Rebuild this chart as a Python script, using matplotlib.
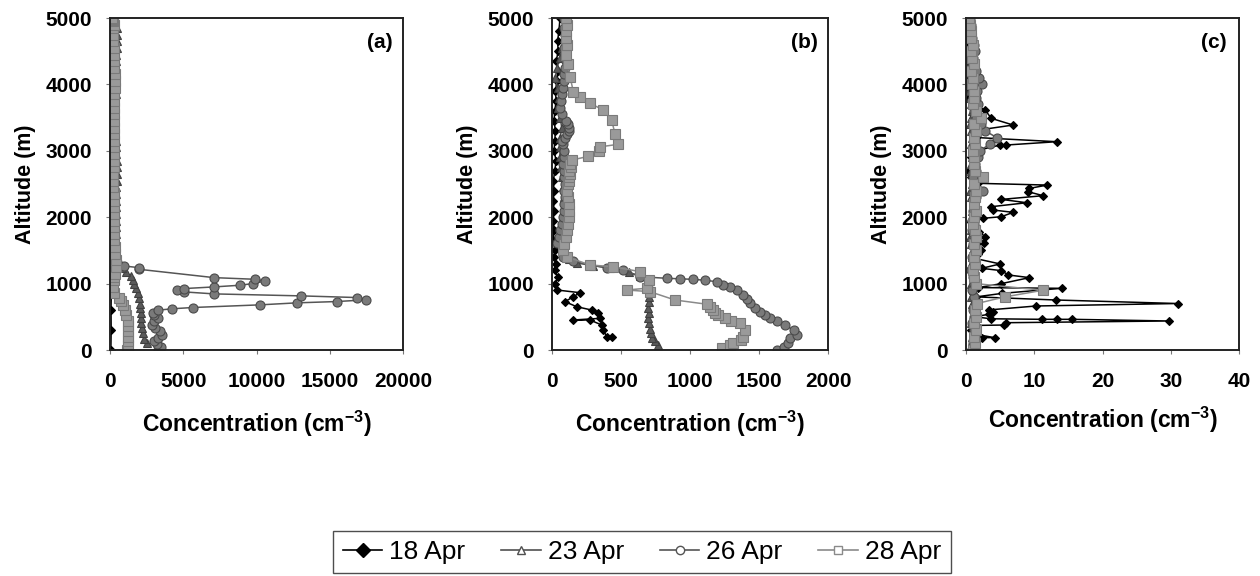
import matplotlib
matplotlib.use("Agg")
import matplotlib.pyplot as plt
from matplotlib.lines import Line2D

plt.rcParams["font.family"] = ["Liberation Sans", "DejaVu Sans"]
plt.rcParams["mathtext.fontset"] = "custom"
plt.rcParams["mathtext.rm"] = "Liberation Sans:bold"
plt.rcParams["mathtext.bf"] = "Liberation Sans:bold"
plt.rcParams["mathtext.default"] = "bf"

DATES = ["18 Apr", "23 Apr", "26 Apr", "28 Apr"]

# ---- panel (a): concentration (cm-3) vs altitude (m) ----
a18_c = [60, 80, 70, 90, 60, 80, 60, 50, 70, 60, 40, 60, 50, 40, 50, 40, 50, 40, 30]
a18_h = [0, 300, 600, 900, 1200, 1500, 1800, 2100, 2400, 2700, 3000, 3300, 3600, 3900, 4200, 4500,
         4700, 4850, 5000]

a23_c = [2500, 2350, 2250, 2200, 2150, 2150, 2100, 2050, 2050, 2000, 1900, 1800, 1650, 1550, 1400, 1100,
         800, 600,
         480, 450, 430, 420, 410, 400, 390, 380, 390, 400, 420, 440, 450, 470, 480, 460, 430, 400,
         380, 360, 350, 340, 330, 340, 360, 380, 400, 390, 380, 400, 420, 440, 460, 480, 500, 480]
a23_h = [100, 170, 250, 330, 400, 480, 560, 640, 700, 780, 860, 930, 1000, 1060, 1110, 1170,
         1230, 1290,
         1350, 1450, 1550, 1650, 1750, 1850, 1950, 2050, 2150, 2250, 2350, 2450, 2550, 2650, 2750, 2850,
         2950, 3050, 3150, 3250, 3350, 3450, 3550, 3650, 3750, 3850, 3950, 4050, 4150, 4250, 4350, 4450,
         4550, 4650, 4750, 4850]

a26_c = [3300, 3450, 3200, 3000, 3250, 3550, 3400, 3050, 2850, 3000, 3250, 3000, 2950, 3300, 4200, 5650,
         10250, 12750, 15500, 17450, 16850, 13050, 7100, 5050, 4550, 5050, 7100, 8850, 9750, 10600, 9900,
         7100, 2000, 2000, 950, 450,
         400, 320, 280, 260, 250, 240, 260, 280, 300, 280, 260, 250, 230, 210, 200, 220, 240, 250, 230,
         20, 150, 180, 200, 220, 250, 240, 220, 200, 230, 250, 220, 200, 180, 150, 120]
a26_h = [0, 40, 90, 130, 180, 230, 280, 330, 380, 430, 480, 520, 560, 600, 620, 640,
         680, 710, 730, 755, 790, 815, 845, 875, 905, 925, 950, 975, 1000, 1040, 1065,
         1090, 1215, 1240, 1265, 1320,
         1400, 1500, 1600, 1700, 1800, 1900, 2000, 2100, 2200, 2300, 2400, 2500, 2600, 2700, 2800, 2900,
         3000, 3100, 3200, 3300, 3400, 3500, 3600, 3700, 3800, 3900, 4000, 4100, 4200, 4300, 4400, 4500,
         4600, 4800, 5000]

a28_c = [1150, 1200, 1250, 1250, 1200, 1250, 1200, 1100, 1000, 900, 750, 600, 300, 200,
         250, 300, 350, 400, 380, 350, 320, 300, 290, 280, 290, 300, 280, 260, 250, 230, 200, 220, 250,
         270, 300, 290, 280, 290, 300, 280, 260, 250, 270, 300, 320, 350, 330, 300, 280, 260, 250, 230,
         200, 220, 250, 230, 200, 180, 150, 120]
a28_h = [0, 60, 130, 200, 280, 360, 440, 520, 600, 680, 740, 790, 860, 950,
         1050, 1100, 1150, 1250, 1350, 1450, 1550, 1650, 1750, 1850, 1950, 2050, 2150, 2250, 2350, 2450,
         2550, 2650, 2750, 2850, 2950, 3050, 3150, 3250, 3350, 3450, 3550, 3650, 3750, 3850, 3950, 4050,
         4150, 4250, 4350, 4450, 4550, 4650, 4750, 4850, 4900, 4950, 4970, 4985, 4995, 5000]

# ---- panel (b) ----
b18_c = [432, 396, 372, 360, 275, 155, 348, 336, 287, 179, 94, 155, 203, 34, 25, 40, 20, 30, 15, 20, 10,
         15, 10, 15, 10, 15, 10, 20, 30, 15, 20, 25, 15, 20, 30, 25, 35, 45, 30, 45, 40, 50, 58]
b18_h = [191, 201, 301, 377, 452, 452, 477, 552, 602, 652, 728, 803, 863, 904, 1000, 1100, 1200, 1300,
         1400, 1500, 1650, 1800, 1950, 2100, 2250, 2400, 2550, 2700, 2850, 3000, 3150, 3300, 3450, 3600,
         3750, 3900, 4050, 4200, 4350, 4500, 4650, 4800, 5000]

b23_c = [770, 745, 725, 715, 710, 700, 698, 700, 698, 700, 705, 710, 712, 700, 640, 560, 420, 300, 180,
         120, 90, 75, 70, 85, 95, 100, 90, 80, 70, 65, 60, 55, 60, 70, 60, 40, 50, 40, 25, 35, 55, 70,
         85, 95, 100]
b23_h = [75, 130, 180, 250, 320, 400, 480, 560, 640, 720, 800, 880, 960, 1040, 1110, 1170, 1230, 1270,
         1310, 1370, 1450, 1550, 1700, 1850, 2000, 2150, 2300, 2450, 2600, 2750, 2900, 3050, 3200, 3350,
         3500, 3650, 3800, 3950, 4100, 4250, 4400, 4550, 4700, 4850, 5000]

b26_c = [1628, 1680, 1713, 1725, 1775, 1750, 1688, 1630, 1580, 1540, 1507, 1470, 1435, 1410, 1386, 1338,
         1290, 1241, 1193, 1110, 1024, 930, 831, 637, 517, 400, 275, 150, 82, 34,
         50, 60, 70, 80, 85, 90, 95, 90, 95, 90, 85, 80, 85, 90, 80, 75, 95, 110, 120, 125, 115,
         100, 75, 60, 65, 70, 80, 85, 90, 95, 100, 95, 90, 100, 95, 90, 85]
b26_h = [0, 50, 100, 176, 226, 300, 376, 430, 477, 530, 577, 640, 703, 770, 828, 904,
         945, 979, 1029, 1050, 1064, 1072, 1080, 1104, 1205, 1240, 1280, 1340, 1405, 1606,
         1700, 1800, 1900, 2000, 2100, 2200, 2300, 2400, 2500, 2600, 2700, 2800, 2900, 3000, 3100,
         3150, 3200, 3250, 3300, 3350, 3400, 3450, 3550, 3650, 3750, 3850, 3950, 4050, 4150, 4250,
         4350, 4450, 4550, 4650, 4750, 4850, 5000]

b28_c = [1230, 1290, 1314, 1370, 1386, 1398, 1362, 1300, 1250, 1200, 1180, 1167, 1145, 1120, 891, 710,
         541, 686, 700, 638, 442, 275, 106, 80,
         90, 100, 110, 115, 120, 125, 120, 115, 110, 115, 120, 125, 130, 125, 135, 130, 142,
         263, 340, 350, 481, 456, 432, 372, 275, 203, 155, 130, 115, 105, 110, 100, 105, 110, 100]
b28_h = [25, 75, 100, 150, 200, 300, 402, 430, 480, 530, 560, 602, 650, 690, 753, 878,
         904, 930, 1050, 1180, 1255, 1280, 1405, 1500,
         1600, 1700, 1800, 1900, 2000, 2100, 2200, 2300, 2400, 2500, 2550, 2600, 2650, 2700, 2750, 2800,
         2860,
         2916, 3000, 3060, 3098, 3260, 3464, 3615, 3715, 3816, 3891, 4117, 4300, 4450, 4600, 4700, 4800,
         4900, 5000]

# ---- panel (c) ----
c18_c = [0.6, 0.9, 2.3, 4.2, 1.2, 0.8, 1.4, 5.5, 5.9, 29.7, 15.5, 13.3, 11.2, 3.7, 1.3, 3.4, 4.0, 3.3,
         10.3, 31.0, 13.2, 1.5, 5.3, 14.0, 1.8, 5.2, 9.3, 6.2, 5.2, 2.3, 5.0, 1.3, 1.8, 2.2, 1.5, 2.6,
         1.7, 2.8, 1.9, 1.0, 0.8, 2.5, 5.2, 6.9, 4.0, 3.7, 8.9, 5.2, 11.3, 9.1, 9.3, 11.9, 1.8, 0.8,
         0.5, 1.0, 0.7, 1.5, 5.0, 5.9, 13.3, 1.5, 1.0, 6.9, 3.7, 2.8, 1.0, 0.5, 0.3, 0.2, 0.1, 0.2,
         0.1, 0.2, 0.1]
c18_h = [0, 80, 186, 186, 240, 300, 370, 376, 411, 437, 462, 462, 462, 470, 500, 540, 578, 603,
         663, 700, 753, 800, 853, 929, 940, 1000, 1090, 1130, 1195, 1230, 1296, 1380, 1450, 1506, 1560, 1606,
         1650, 1707, 1782, 1850, 1930, 1983, 2008, 2073, 2108, 2158, 2218, 2268, 2324, 2384, 2434, 2484, 2510,
         2600, 2700, 2800, 2900, 3000, 3087, 3087, 3137, 3200, 3300, 3388, 3489, 3615, 3700, 3800, 3900,
         4000, 4200, 4400, 4600, 4800, 5000]

c_h = [0, 100, 200, 300, 400, 500, 600, 700, 800, 900,
       1000, 1100, 1200, 1300, 1400, 1500, 1600, 1700, 1800, 1900,
       2000, 2100, 2200, 2300, 2400, 2500, 2600, 2700, 2800, 2900,
       3000, 3100, 3200, 3300, 3400, 3500, 3600, 3700, 3800, 3900,
       4000, 4100, 4200, 4300, 4400, 4500, 4600, 4700, 4800, 4900, 5000]
c23_c = [0.8, 1.0, 0.9, 1.1, 0.8, 1.0, 1.2, 0.9, 0.7, 1.0,
         0.8, 1.1, 0.9, 0.7, 0.9, 1.0, 0.8, 0.6, 0.8, 0.9,
         0.7, 0.9, 1.0, 0.8, 0.6, 0.9, 1.1, 0.8, 0.7, 0.9,
         1.0, 0.8, 0.9, 0.7, 0.6, 0.8, 0.9, 0.7, 0.6, 0.5,
         0.7, 0.6, 0.5, 0.6, 0.4, 0.5, 0.6, 0.4, 0.5, 0.3, 0.3]
c26_c = [1.2, 1.0, 1.3, 1.1, 0.9, 1.2, 1.0, 1.4, 1.1, 0.9,
         1.2, 1.0, 0.8, 1.1, 0.9, 1.3, 1.0, 1.2, 0.9, 1.1,
         1.3, 1.0, 1.2, 1.4, 2.5, 1.2, 1.0, 1.5, 1.3, 1.8,
         2.0, 3.5, 4.5, 2.8, 2.2, 1.5, 1.2, 1.8, 1.4, 1.6,
         2.3, 1.9, 1.5, 1.2, 1.0, 1.3, 1.1, 0.9, 0.8, 0.7, 0.6]
c28_c = [1.0, 1.3, 1.1, 1.4, 1.2, 1.5, 1.3, 1.6, 5.7, 11.3,
         1.4, 1.2, 1.0, 1.3, 1.1, 1.5, 1.2, 1.4, 1.3, 1.0,
         1.2, 1.4, 1.1, 1.3, 1.5, 1.2, 2.5, 1.3, 1.1, 1.2,
         1.0, 1.3, 1.1, 1.4, 1.2, 2.2, 1.5, 1.0, 1.2, 1.1,
         0.9, 1.0, 0.8, 1.1, 0.9, 0.8, 1.0, 0.7, 0.8, 0.6, 0.5]

PANELS = [
    ("(a)", 20000, 5000, [(a18_c, a18_h), (a23_c, a23_h), (a26_c, a26_h), (a28_c, a28_h)]),
    ("(b)", 2000, 500, [(b18_c, b18_h), (b23_c, b23_h), (b26_c, b26_h), (b28_c, b28_h)]),
    ("(c)", 40, 10, [(c18_c, c18_h), (c23_c, c_h), (c26_c, c_h), (c28_c, c_h)]),
]

STYLE = [dict(color="black", marker="D", ms=4.5, mfc="black", mec="black"),
         dict(color="#505050", marker="^", ms=5.5, mfc="#5a5a5a", mec="#404040"),
         dict(color="#555555", marker="o", ms=6.5, mfc="#7a7a7a", mec="#4a4a4a"),
         dict(color="#8a8a8a", marker="s", ms=6.5, mfc="#9a9a9a", mec="#7a7a7a")]

# axes boxes in pixels (left, right), panel-label x (axes fraction), xlabel pad
BOX = [(110, 403, 0.966, 13), (552, 828, 0.964, 13), (966, 1239, 0.956, 10)]
W, Hpx = 1260, 576
TOP, BOT = 18, 350

fig = plt.figure(figsize=(12.6, 5.76), dpi=100)
for (tag, xmax, xstep, series), (x0, x1, tx, lpad) in zip(PANELS, BOX):
    ax = fig.add_axes([x0 / W, 1 - BOT / Hpx, (x1 - x0) / W, (BOT - TOP) / Hpx])
    for (c, h), st in zip(series, STYLE):
        ax.plot(c, h, lw=1.1, color=st["color"], marker=st["marker"], ms=st["ms"],
                mfc=st["mfc"], mec=st["mec"], mew=0.8)
    ax.set_xlim(0, xmax)
    ax.set_ylim(0, 5000)
    ax.set_xticks(range(0, xmax + 1, xstep))
    ax.set_yticks(range(0, 5001, 1000))
    ax.tick_params(axis="both", direction="out", length=3, width=0.8, color="#777777",
                   labelsize=15)
    ax.tick_params(axis="x", pad=13)
    ax.tick_params(axis="y", pad=10)
    for lab in ax.get_xticklabels() + ax.get_yticklabels():
        lab.set_fontweight("bold")
    for sp in ax.spines.values():
        sp.set_linewidth(1.4)
        sp.set_color("#222222")
    ax.set_ylabel("Altitude (m)", fontsize=15.5, fontweight="bold", labelpad=7)
    ax.set_xlabel("Concentration (cm$^{-3}$)", fontsize=16.5, fontweight="bold", labelpad=lpad)
    ax.text(tx, 0.955, tag, transform=ax.transAxes, ha="right", va="top",
            fontsize=15, fontweight="bold")

handles = [Line2D([], [], color=st["color"], lw=1.2, marker=st["marker"],
                  ms=7 if i == 0 else 6,
                  mfc="black" if i == 0 else "white", mec=st["color"], mew=1.0)
           for i, st in enumerate(STYLE)]
fig.legend(handles, DATES, ncol=4, loc="upper center",
           bbox_to_anchor=(642 / W, 1 - 531 / Hpx), frameon=True, fancybox=False,
           edgecolor="#222222", fontsize=19, handlelength=1.5, handletextpad=0.27,
           columnspacing=1.35, borderpad=0.35, borderaxespad=0)

fig.savefig("out.png", dpi=100)
